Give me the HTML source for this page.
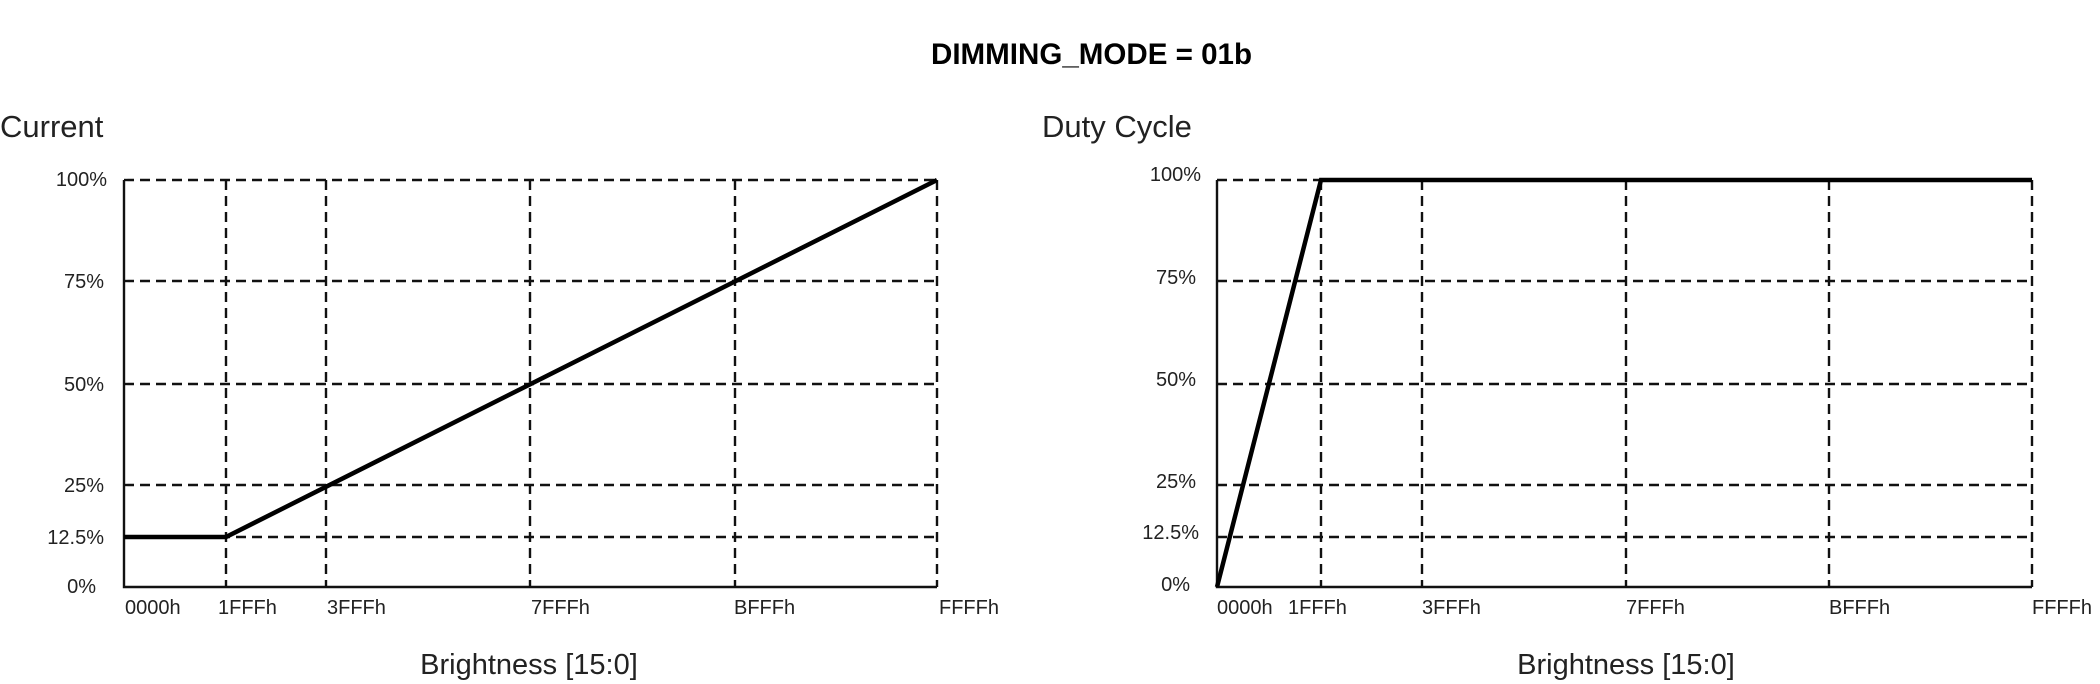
<!DOCTYPE html>
<html><head><style>html,body{margin:0;padding:0;background:#fff;}svg{display:block}</style></head>
<body>
<svg width="2100" height="684" xmlns="http://www.w3.org/2000/svg" font-family="'Liberation Sans',sans-serif" fill="#222">
<text x="931" y="64" font-size="30" font-weight="bold" fill="#000" textLength="321" lengthAdjust="spacingAndGlyphs">DIMMING_MODE = 01b</text>
<!-- LEFT -->
<text x="0" y="137" font-size="31">Current</text>
<g stroke="#111" stroke-width="2.4" stroke-dasharray="10,6" fill="none">
<line x1="124" y1="180" x2="937" y2="180"/><line x1="124" y1="281" x2="937" y2="281"/>
<line x1="124" y1="384" x2="937" y2="384"/><line x1="124" y1="485" x2="937" y2="485"/>
<line x1="124" y1="537" x2="937" y2="537"/>
<line x1="226" y1="180" x2="226" y2="587"/><line x1="326" y1="180" x2="326" y2="587"/>
<line x1="530" y1="180" x2="530" y2="587"/><line x1="735" y1="180" x2="735" y2="587"/>
<line x1="937" y1="180" x2="937" y2="587"/>
</g>
<path d="M124 180 V587 H937" stroke="#111" stroke-width="2.4" fill="none"/>
<polyline points="124,537 226,537 937,180" stroke="#000" stroke-width="4.5" fill="none"/>
<g font-size="20" text-anchor="end">
<text x="107" y="186">100%</text><text x="104" y="288">75%</text><text x="104" y="391">50%</text>
<text x="104" y="492">25%</text><text x="104" y="544">12.5%</text><text x="96" y="593">0%</text>
</g>
<g font-size="20">
<text x="125" y="614">0000h</text><text x="218" y="614">1FFFh</text><text x="327" y="614">3FFFh</text>
<text x="531" y="614">7FFFh</text><text x="734" y="614">BFFFh</text><text x="939" y="614">FFFFh</text>
</g>
<text x="529" y="674" font-size="29" text-anchor="middle">Brightness [15:0]</text>
<!-- RIGHT -->
<text x="1042" y="137" font-size="31">Duty Cycle</text>
<g stroke="#111" stroke-width="2.4" stroke-dasharray="10,6" fill="none">
<line x1="1217" y1="180" x2="2032" y2="180"/><line x1="1217" y1="281" x2="2032" y2="281"/>
<line x1="1217" y1="384" x2="2032" y2="384"/><line x1="1217" y1="485" x2="2032" y2="485"/>
<line x1="1217" y1="537" x2="2032" y2="537"/>
<line x1="1321" y1="180" x2="1321" y2="587"/><line x1="1422" y1="180" x2="1422" y2="587"/>
<line x1="1626" y1="180" x2="1626" y2="587"/><line x1="1829" y1="180" x2="1829" y2="587"/>
<line x1="2032" y1="180" x2="2032" y2="587"/>
</g>
<path d="M1217 180 V587 H2032" stroke="#111" stroke-width="2.4" fill="none"/>
<polyline points="1217,587 1321,180 2032,180" stroke="#000" stroke-width="4.5" fill="none"/>
<g font-size="20" text-anchor="end">
<text x="1201" y="181">100%</text><text x="1196" y="284">75%</text><text x="1196" y="386">50%</text>
<text x="1196" y="488">25%</text><text x="1199" y="539">12.5%</text><text x="1190" y="591">0%</text>
</g>
<g font-size="20">
<text x="1217" y="614">0000h</text><text x="1288" y="614">1FFFh</text><text x="1422" y="614">3FFFh</text>
<text x="1626" y="614">7FFFh</text><text x="1829" y="614">BFFFh</text><text x="2032" y="614">FFFFh</text>
</g>
<text x="1626" y="674" font-size="29" text-anchor="middle">Brightness [15:0]</text>
</svg>
</body></html>
